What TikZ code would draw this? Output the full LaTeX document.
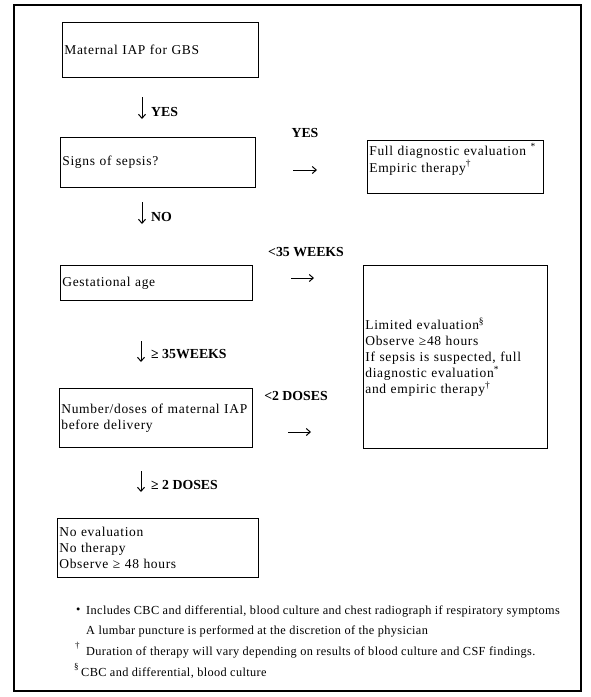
\documentclass[tikz,border=0pt]{standalone}
\usepackage{fontspec}
\setmainfont{Liberation Serif}
\newfontfamily\boxfont[LetterSpace=5]{Liberation Serif}
\newfontfamily\footfont[LetterSpace=3]{Liberation Serif}
\usetikzlibrary{arrows.meta}
\begin{document}
\begin{tikzpicture}[x=1pt,y=-1pt,
  box/.style={draw, line width=0.8pt, anchor=north west, inner xsep=2pt, inner ysep=2pt,
              align=left, font=\boxfont\fontsize{13.5}{16}\selectfont},
  lbl/.style={font=\bfseries\fontsize{13.8}{15}\selectfont, inner sep=0pt},
  arr/.style={-{Straight Barb[length=4pt,width=7pt]}, line width=1pt},
  foot/.style={anchor=west, inner sep=0pt, font=\footfont\fontsize{12.3}{14}\selectfont},
  fmark/.style={anchor=west, inner sep=0pt, font=\fontsize{9}{10}\selectfont}]
\useasboundingbox (0,0) rectangle (591,697);
\fill[white] (0,0) rectangle (591,697);
% outer frame
\draw[line width=1.1pt] (14,5) rectangle (581,691);

% left column boxes
\node[box, text width=192pt, minimum height=55pt] (b1) at (62,22) {Maternal IAP for GBS};
\node[box, text width=191pt, minimum height=50pt] (b2) at (60,137) {Signs of sepsis?};
\node[box, text width=188pt, minimum height=35pt] (b3) at (60,265) {Gestational age};
\node[box, text width=189pt, minimum height=59pt] (b4) at (59,388) {Number/doses of maternal IAP\\before delivery};
\node[box, text width=197pt, minimum height=59pt] (b5) at (57,518) {No evaluation\\No therapy\\Observe ≥ 48 hours};

% right column boxes
\node[box, text width=172pt, minimum height=53pt] (ra) at (367,140)
  {Full diagnostic evaluation \textsuperscript{*}\\[1pt]Empiric therapy\textsuperscript{\dag}\\[2pt]\mbox{}};
\node[box, text width=180pt, minimum height=183pt] (rb) at (363,265)
  {Limited evaluation\textsuperscript{\S}\\Observe ≥48 hours\\If sepsis is suspected, full\\diagnostic evaluation\textsuperscript{*}\\and empiric therapy\textsuperscript{\dag}};

% down arrows with labels
\coordinate (d1s) at (142,97);  \coordinate (d1e) at (142,119);
\draw[arr] (d1s) -- (d1e);
\node[lbl, anchor=west] (l1) at (151,112) {YES};

\coordinate (d2s) at (142,202); \coordinate (d2e) at (142,224);
\draw[arr] (d2s) -- (d2e);
\node[lbl, anchor=west] (l2) at (151,217) {NO};

\coordinate (d3s) at (141,341); \coordinate (d3e) at (141,362);
\draw[arr] (d3s) -- (d3e);
\node[lbl, anchor=west] (l3) at (151,354) {≥ 35WEEKS};

\coordinate (d4s) at (141,471); \coordinate (d4e) at (141,492);
\draw[arr] (d4s) -- (d4e);
\node[lbl, anchor=west] (l4) at (151,485) {≥ 2 DOSES};

% right arrows with labels
\coordinate (r1s) at (293,170); \coordinate (r1e) at (317,170);
\draw[arr] (r1s) -- (r1e);
\node[lbl] (l5) at (305,133) {YES};

\coordinate (r2s) at (291,278); \coordinate (r2e) at (314,278);
\draw[arr] (r2s) -- (r2e);
\node[lbl] (l6) at (306,252) {<35 WEEKS};

\coordinate (r3s) at (288,432); \coordinate (r3e) at (311,432);
\draw[arr] (r3s) -- (r3e);
\node[lbl] (l7) at (296,396) {<2 DOSES};

% footnotes
\node[foot] (f1m) at (76,611) {\textbullet};
\node[foot] (f1) at (86,611) {Includes CBC and differential, blood culture and chest radiograph if respiratory symptoms};
\node[foot] (f2) at (86,631) {A lumbar puncture is performed at the discretion of the physician};
\node[fmark] (f3m) at (75,646) {\dag};
\node[foot] (f3) at (86,652) {Duration of therapy will vary depending on results of blood culture and CSF findings.};
\node[fmark] (f4m) at (74,667) {\S};
\node[foot] (f4) at (81,673) {CBC and differential, blood culture};
\end{tikzpicture}
\end{document}
